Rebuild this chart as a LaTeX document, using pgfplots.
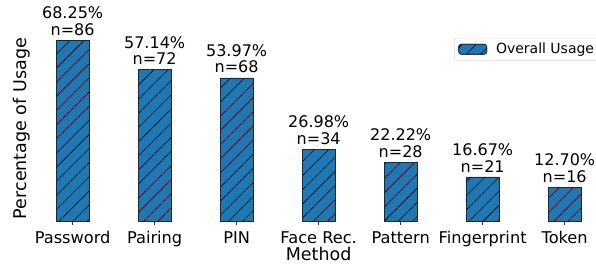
\documentclass[border=0pt]{standalone}
\usepackage{pgfplots}
\pgfplotsset{compat=1.18}
\usepackage{fontspec}
\setmainfont{DejaVu Sans}
\usetikzlibrary{patterns.meta}
\definecolor{tabblue}{HTML}{1F77B4}
\definecolor{legframe}{HTML}{D9D9D9}
\begin{document}
\begin{tikzpicture}
\begin{axis}[
  at={(0,0)}, anchor=south west,
  scale only axis,
  width=577.3pt, height=190pt,
  xmin=-0.52, xmax=6.52,
  ymin=0, ymax=71.66,
  axis x line*=bottom,
  axis y line*=left,
  x axis line style={draw=none},
  y axis line style={draw=none},
  ytick=\empty,
  xtick={0,1,2,3,4,5,6},
  xticklabels={Password,Pairing,PIN,Face Rec.,Pattern,Fingerprint,Token},
  xtick style={black!80, line width=0.6pt},
  major tick length=3.5pt,
  tick align=outside,
  xticklabel style={anchor=base, yshift=-19pt, inner sep=0pt, font=\fontsize{16.2}{19}\selectfont},
  xlabel={Method},
  xlabel style={at={(axis description cs:0.5,0)}, anchor=base, yshift=-39pt, inner sep=0pt, font=\fontsize{17.5}{21}\selectfont},
  ylabel={Percentage of Usage},
  ylabel style={at={(axis description cs:0,0.505)}, anchor=south, xshift=-3.5pt, inner sep=0pt, font=\fontsize{17.5}{21}\selectfont},
  ybar, bar width=0.4,
  point meta=explicit symbolic,
  nodes near coords,
  nodes near coords style={anchor=south, align=center, inner sep=0pt, yshift=4.5pt, font=\fontsize{16}{16.5}\selectfont},
  legend style={at={(rel axis cs:1,1)}, anchor=north east, xshift=-7pt, yshift=-7pt,
    draw=legframe, rounded corners=2.5pt, font=\fontsize{14}{16}\selectfont,
    inner xsep=4pt, inner ysep=3pt,
    /tikz/every odd column/.append style={column sep=7pt}},
  legend image code/.code={\draw[#1] (0pt,-5pt) rectangle (28pt,5pt);},
  legend cell align=left,
]
\addplot[fill=tabblue, draw=black!85, line width=0.6pt,
  postaction={pattern={Lines[angle=45,distance=10pt,line width=0.6pt]}, pattern color=black}]
coordinates {
  (0,68.25) [68.25\%\\n=86]
  (1,57.14) [57.14\%\\n=72]
  (2,53.97) [53.97\%\\n=68]
  (3,26.98) [26.98\%\\n=34]
  (4,22.22) [22.22\%\\n=28]
  (5,16.67) [16.67\%\\n=21]
  (6,12.70) [12.70\%\\n=16]
};
\addlegendentry{Overall Usage}
\end{axis}
\pgfresetboundingbox
\path (-30pt,-45pt) rectangle (566pt,221pt);
\end{tikzpicture}
\end{document}
